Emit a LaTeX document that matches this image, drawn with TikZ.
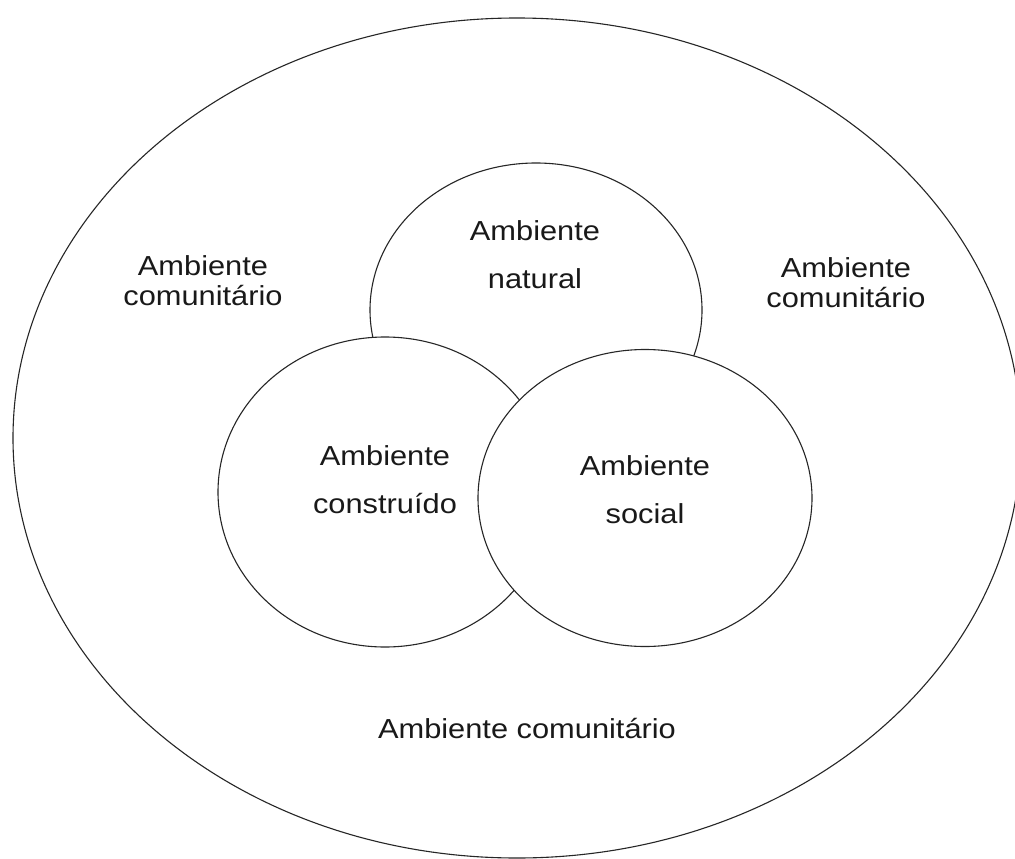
\documentclass[tikz,border=0pt]{standalone}
\usepackage{fontspec}
\setmainfont{Liberation Sans}[FakeStretch=1.12]
\begin{document}
\begin{tikzpicture}[x=1pt,y=-1pt,
  ring/.style={draw=black!85,line width=1.1pt,fill=white},
  lbl/.style={align=center,inner sep=0pt,anchor=base,text=black!90,
    font={\fontsize{27.5}{48}\selectfont}},
  outerlbl/.style={lbl,font={\fontsize{27.5}{30}\selectfont}}]
\useasboundingbox (0,0) rectangle (1015,859);
\fill[white] (0,0) rectangle (1015,859);
% community environment
\draw[ring] (517,438) ellipse [x radius=504,y radius=420];
% the three overlapping environments, back to front
\draw[ring] (536,310) ellipse [x radius=166,y radius=147];
\draw[ring] (385,492) ellipse [x radius=167,y radius=155];
\draw[ring] (645,498) ellipse [x radius=167,y radius=148.5];
% labels
\node[lbl] (nat) at (535,288) {Ambiente\\natural};
\node[lbl] (con) at (385,513) {Ambiente\\construído};
\node[lbl] (soc) at (645,523) {Ambiente\\social};
\node[outerlbl] (cl) at (203,305) {Ambiente\\comunitário};
\node[outerlbl] (cr) at (846,307) {Ambiente\\comunitário};
\node[lbl] (cb) at (527,738) {Ambiente comunitário};
\end{tikzpicture}
\end{document}
